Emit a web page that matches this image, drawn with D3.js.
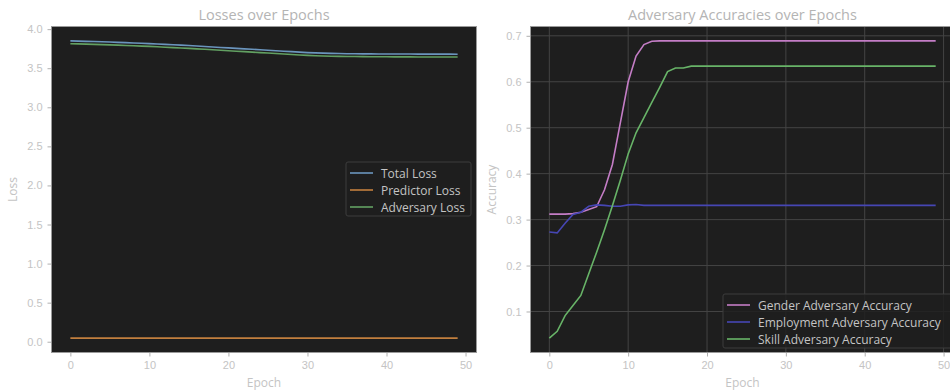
<!DOCTYPE html>
<html>
<head>
<meta charset="utf-8">
<script src="https://cdn.jsdelivr.net/npm/d3@7"></script>
<style>
  body { margin: 0; background: #fff; }
  svg { display: block; font-family: "Open Sans", "Noto Sans", sans-serif; }
  .tick text { fill: #c4c4c4; font-size: 11px; }
  .tick line { stroke: #b0b0b0; }
  .domain { display: none; }
</style>
</head>
<body>
<div id="chart"></div>
<script>
// Epochs
const epochs = d3.range(0, 50);

// Losses
const totalLoss = [3.850, 3.847, 3.844, 3.841, 3.838, 3.835, 3.831, 3.827, 3.823, 3.819,
  3.815, 3.810, 3.805, 3.800, 3.795, 3.790, 3.784, 3.778, 3.772, 3.766,
  3.760, 3.754, 3.748, 3.742, 3.736, 3.730, 3.724, 3.718, 3.712, 3.706,
  3.700, 3.696, 3.693, 3.690, 3.688, 3.686, 3.685, 3.684, 3.683, 3.682,
  3.682, 3.681, 3.681, 3.681, 3.680, 3.680, 3.680, 3.680, 3.680, 3.679];
const predictorLoss = [0.046, 0.046, 0.046, 0.046, 0.046, 0.046, 0.046, 0.046, 0.046, 0.046,
  0.046, 0.046, 0.046, 0.046, 0.046, 0.046, 0.046, 0.046, 0.046, 0.046,
  0.046, 0.046, 0.046, 0.046, 0.046, 0.046, 0.046, 0.046, 0.046, 0.046,
  0.046, 0.046, 0.046, 0.046, 0.046, 0.046, 0.046, 0.046, 0.046, 0.046,
  0.046, 0.046, 0.046, 0.046, 0.046, 0.046, 0.046, 0.046, 0.046, 0.046];
const adversaryLoss = [3.814, 3.811, 3.808, 3.805, 3.802, 3.799, 3.795, 3.791, 3.787, 3.783,
  3.779, 3.774, 3.769, 3.764, 3.759, 3.754, 3.748, 3.742, 3.736, 3.730,
  3.724, 3.718, 3.712, 3.706, 3.700, 3.694, 3.688, 3.682, 3.676, 3.670,
  3.664, 3.660, 3.657, 3.654, 3.652, 3.650, 3.649, 3.648, 3.647, 3.646,
  3.646, 3.645, 3.645, 3.645, 3.644, 3.644, 3.644, 3.644, 3.644, 3.643];

// Adversary accuracies
const genderAcc = [0.312, 0.312, 0.312, 0.313, 0.316, 0.322, 0.328, 0.365, 0.420, 0.510,
  0.600, 0.656, 0.681, 0.688, 0.689, 0.689, 0.689, 0.689, 0.689, 0.689,
  0.689, 0.689, 0.689, 0.689, 0.689, 0.689, 0.689, 0.689, 0.689, 0.689,
  0.689, 0.689, 0.689, 0.689, 0.689, 0.689, 0.689, 0.689, 0.689, 0.689,
  0.689, 0.689, 0.689, 0.689, 0.689, 0.689, 0.689, 0.689, 0.689, 0.689];
const employmentAcc = [0.273, 0.271, 0.292, 0.311, 0.316, 0.329, 0.332, 0.331, 0.329, 0.329,
  0.332, 0.333, 0.331, 0.331, 0.331, 0.331, 0.331, 0.331, 0.331, 0.331,
  0.331, 0.331, 0.331, 0.331, 0.331, 0.331, 0.331, 0.331, 0.331, 0.331,
  0.331, 0.331, 0.331, 0.331, 0.331, 0.331, 0.331, 0.331, 0.331, 0.331,
  0.331, 0.331, 0.331, 0.331, 0.331, 0.331, 0.331, 0.331, 0.331, 0.331];
const skillAcc = [0.042, 0.057, 0.091, 0.113, 0.135, 0.182, 0.229, 0.278, 0.330, 0.385,
  0.443, 0.489, 0.522, 0.555, 0.588, 0.622, 0.630, 0.630, 0.634, 0.634,
  0.634, 0.634, 0.634, 0.634, 0.634, 0.634, 0.634, 0.634, 0.634, 0.634,
  0.634, 0.634, 0.634, 0.634, 0.634, 0.634, 0.634, 0.634, 0.634, 0.634,
  0.634, 0.634, 0.634, 0.634, 0.634, 0.634, 0.634, 0.634, 0.634, 0.634];

const xTicks = [0, 10, 20, 30, 40, 50];
const lossTicks = [0, 0.5, 1, 1.5, 2, 2.5, 3, 3.5, 4];
const accTicks = [0.1, 0.2, 0.3, 0.4, 0.5, 0.6, 0.7];

const width = 950;
const height = 392;

const svg = d3.select('#chart')
  .append('svg')
  .attr('width', width)
  .attr('height', height);

// matplotlib-like 5% padding around the data
function padded(values) {
  const [lo, hi] = d3.extent(values);
  const pad = (hi - lo) * 0.05;
  return [lo - pad, hi + pad];
}

function drawPanel(opts) {
  const { left, right, top, bottom, series, yTicks, yFormat, title, yLabel, grid, legend } = opts;

  const x = d3.scaleLinear().domain(padded(epochs)).range([left, right]);
  const y = d3.scaleLinear().domain(padded(series.flatMap(s => s.values))).range([bottom, top]);

  const g = svg.append('g');

  g.append('rect')
    .attr('x', left)
    .attr('y', top)
    .attr('width', right - left)
    .attr('height', bottom - top)
    .attr('fill', '#1e1e1e');

  if (grid) {
    g.append('g')
      .selectAll('line.gx')
      .data(xTicks)
      .join('line')
      .attr('x1', d => x(d)).attr('x2', d => x(d))
      .attr('y1', top).attr('y2', bottom)
      .attr('stroke', '#444')
      .attr('stroke-width', 1);
    g.append('g')
      .selectAll('line.gy')
      .data(yTicks)
      .join('line')
      .attr('x1', left).attr('x2', right)
      .attr('y1', d => y(d)).attr('y2', d => y(d))
      .attr('stroke', '#444')
      .attr('stroke-width', 1);
  }

  const line = d3.line()
    .x((d, i) => x(epochs[i]))
    .y(d => y(d));

  series.forEach(s => {
    g.append('path')
      .datum(s.values)
      .attr('fill', 'none')
      .attr('stroke', s.color)
      .attr('stroke-width', 1.6)
      .attr('d', line);
  });

  // frame
  g.append('rect')
    .attr('x', left + 0.5)
    .attr('y', top + 0.5)
    .attr('width', right - left - 1)
    .attr('height', bottom - top - 1)
    .attr('fill', 'none')
    .attr('stroke', '#9a9a9a')
    .attr('stroke-width', 1);

  g.append('g')
    .attr('transform', `translate(0,${bottom})`)
    .call(d3.axisBottom(x).tickValues(xTicks).tickSize(3.5).tickPadding(5).tickFormat(d3.format('d')));

  g.append('g')
    .attr('transform', `translate(${left},0)`)
    .call(d3.axisLeft(y).tickValues(yTicks).tickSize(3.5).tickPadding(5).tickFormat(yFormat));

  const cx = (left + right) / 2;
  g.append('text')
    .attr('x', cx)
    .attr('y', 20)
    .attr('text-anchor', 'middle')
    .attr('fill', '#b4b4b4')
    .attr('font-size', 14.5)
    .text(title);

  g.append('text')
    .attr('x', cx)
    .attr('y', 387)
    .attr('text-anchor', 'middle')
    .attr('fill', '#c4c4c4')
    .attr('font-size', 12)
    .text('Epoch');

  g.append('text')
    .attr('transform', `translate(${opts.yLabelX},${(top + bottom) / 2}) rotate(-90)`)
    .attr('text-anchor', 'middle')
    .attr('fill', '#c4c4c4')
    .attr('font-size', 12)
    .text(yLabel);

  // legend
  const lg = g.append('g');
  lg.append('rect')
    .attr('x', legend.x)
    .attr('y', legend.y)
    .attr('width', legend.w)
    .attr('height', series.length * 17 + 3)
    .attr('rx', 2)
    .attr('fill', '#1e1e1e')
    .attr('fill-opacity', 0.85)
    .attr('stroke', '#3c3c3c');

  series.forEach((s, i) => {
    const ly = legend.y + 11 + i * 17;
    lg.append('line')
      .attr('x1', legend.x + 4).attr('x2', legend.x + 27)
      .attr('y1', ly).attr('y2', ly)
      .attr('stroke', s.color)
      .attr('stroke-width', 1.6);
    lg.append('text')
      .attr('x', legend.x + 35)
      .attr('y', ly + 4.5)
      .attr('fill', '#c4c4c4')
      .attr('font-size', 12)
      .text(s.name);
  });
}

drawPanel({
  left: 51, right: 477, top: 26, bottom: 353,
  series: [
    { name: 'Total Loss', values: totalLoss, color: '#6b95bd' },
    { name: 'Predictor Loss', values: predictorLoss, color: '#c27f3e' },
    { name: 'Adversary Loss', values: adversaryLoss, color: '#62a062' }
  ],
  yTicks: lossTicks,
  yFormat: d3.format('.1f'),
  title: 'Losses over Epochs',
  yLabel: 'Loss',
  yLabelX: 17,
  grid: false,
  legend: { x: 346, y: 162, w: 125 }
});

drawPanel({
  left: 530, right: 955, top: 26, bottom: 353,
  series: [
    { name: 'Gender Adversary Accuracy', values: genderAcc, color: '#c47dc6' },
    { name: 'Employment Adversary Accuracy', values: employmentAcc, color: '#4646b4' },
    { name: 'Skill Adversary Accuracy', values: skillAcc, color: '#68b468' }
  ],
  yTicks: accTicks,
  yFormat: d3.format('.1f'),
  title: 'Adversary Accuracies over Epochs',
  yLabel: 'Accuracy',
  yLabelX: 496,
  grid: true,
  legend: { x: 723, y: 294, w: 230 }
});
</script>
</body>
</html>
